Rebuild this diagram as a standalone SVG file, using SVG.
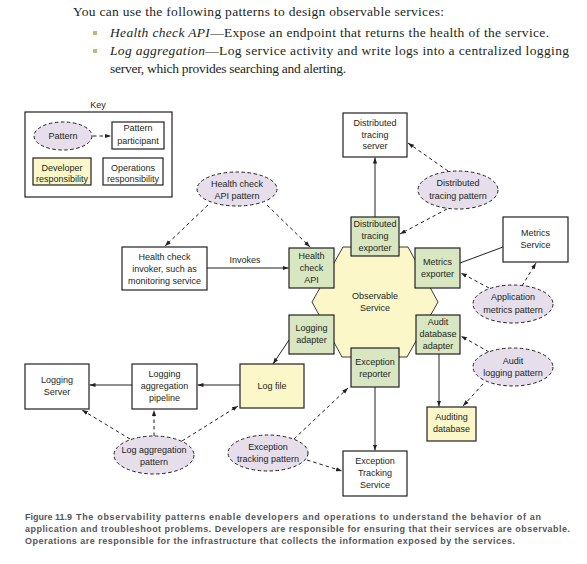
<svg xmlns="http://www.w3.org/2000/svg" width="587" height="564" viewBox="0 0 587 564">
<defs>
<marker id="ah" viewBox="0 0 10 10" refX="10" refY="5" markerWidth="6" markerHeight="6" orient="auto" markerUnits="userSpaceOnUse">
<path d="M0,1.5 L10,5 L0,8.5 z" fill="#231f20"/>
</marker>
<style>
.prose{font-family:"Liberation Serif","Times New Roman",serif;font-size:13.5px;fill:#231f20}
.cap{font-family:"Liberation Sans",Arial,sans-serif;font-weight:bold;font-size:9px;fill:#555557}
.t{font-family:"Liberation Sans",Arial,sans-serif;font-size:9px;fill:#231f20;text-anchor:middle}
.ops{fill:#ffffff;stroke:#231f20;stroke-width:1.2}
.dev{fill:#fcf7c9;stroke:#231f20;stroke-width:1.2}
.part{fill:#d8e7c1;stroke:#231f20;stroke-width:1.2}
.pat{fill:#e6deeb;stroke:#231f20;stroke-width:1;stroke-dasharray:3.5,2.5}
.hex{fill:#fcf7c9;stroke:#3a3a3a;stroke-width:1}
.solid{fill:none;stroke:#231f20;stroke-width:1;marker-end:url(#ah)}
.plain{fill:none;stroke:#231f20;stroke-width:1}
.dash{fill:none;stroke:#231f20;stroke-width:1;stroke-dasharray:3.5,3;marker-end:url(#ah)}
</style>
</defs>
<rect width="587" height="564" fill="#ffffff"/>

<g id="prose">
<text class="prose" x="73" y="16" textLength="371" lengthAdjust="spacing">You can use the following patterns to design observable services:</text>
<rect x="93" y="31" width="4" height="4" fill="#c9b27c"/>
<text class="prose" x="110" y="37" textLength="439" lengthAdjust="spacing"><tspan font-style="italic">Health check API</tspan>—Expose an endpoint that returns the health of the service.</text>
<rect x="93" y="49" width="4" height="4" fill="#c9b27c"/>
<text class="prose" x="110" y="55" textLength="459" lengthAdjust="spacing"><tspan font-style="italic">Log aggregation</tspan>—Log service activity and write logs into a centralized logging</text>
<text class="prose" x="110" y="73" textLength="236" lengthAdjust="spacing">server, which provides searching and alerting.</text>
</g>

<g id="key">
<text class="t" x="98" y="108">Key</text>
<rect x="25" y="112" width="147" height="85" fill="#ffffff" stroke="#231f20" stroke-width="1.2"/>
<ellipse class="pat" cx="63" cy="136" rx="29" ry="14"/>
<text class="t" x="63" y="139">Pattern</text>
<rect class="ops" x="112" y="122" width="52" height="27"/>
<text class="t" x="138" y="131">Pattern</text>
<text class="t" x="138" y="144">participant</text>
<rect class="dev" x="33" y="158" width="58" height="27"/>
<text class="t" x="62" y="171">Developer</text>
<text class="t" x="62" y="182">responsibility</text>
<rect class="ops" x="103" y="158" width="60" height="27"/>
<text class="t" x="133" y="171">Operations</text>
<text class="t" x="133" y="182">responsibility</text>
<line class="dash" x1="93" y1="136" x2="111" y2="136"/>
</g>

<g id="observable-service">
<polygon class="hex" points="343,247 408,247 438,302 407,357 342,357 312,302"/>
<text class="t" x="375" y="299">Observable</text>
<text class="t" x="375" y="311">Service</text>
</g>

<g id="connectors">
<line class="solid" x1="375" y1="217" x2="375" y2="157.5"/>
<line class="plain" x1="460" y1="263" x2="503" y2="247"/>
<line class="solid" x1="207" y1="268" x2="288.5" y2="268"/>
<line class="solid" x1="289" y1="340" x2="273" y2="364"/>
<line class="solid" x1="240" y1="385" x2="197.5" y2="385"/>
<line class="solid" x1="132" y1="385" x2="89.5" y2="385"/>
<line class="solid" x1="375" y1="387" x2="375" y2="450.5"/>
<line class="solid" x1="439" y1="354" x2="439" y2="406.5"/>
<line class="dash" x1="448" y1="171" x2="408" y2="143"/>
<line class="dash" x1="447" y1="209" x2="400" y2="234"/>
<line class="dash" x1="522" y1="286" x2="536" y2="263"/>
<line class="dash" x1="489" y1="288" x2="461" y2="273"/>
<line class="dash" x1="208" y1="205" x2="165" y2="246"/>
<line class="dash" x1="267" y1="205" x2="310" y2="247"/>
<line class="dash" x1="489" y1="352" x2="461" y2="336"/>
<line class="dash" x1="483" y1="384" x2="463" y2="406"/>
<line class="dash" x1="130" y1="439" x2="82" y2="410"/>
<line class="dash" x1="154" y1="436" x2="154" y2="410"/>
<line class="dash" x1="182" y1="441" x2="238" y2="406"/>
<line class="dash" x1="294" y1="439" x2="348" y2="388"/>
<line class="dash" x1="307" y1="460" x2="342" y2="471"/>
</g>

<g id="distributed-tracing-server">
<rect class="ops" x="343" y="113" width="64" height="44"/>
<text class="t" x="375" y="126">Distributed</text>
<text class="t" x="375" y="138">tracing</text>
<text class="t" x="375" y="149">server</text>
</g>

<g id="distributed-tracing-pattern">
<ellipse class="pat" cx="458" cy="190" rx="40" ry="19"/>
<text class="t" x="458" y="186">Distributed</text>
<text class="t" x="458" y="199">tracing pattern</text>
</g>

<g id="distributed-tracing-exporter">
<rect class="part" x="351" y="217" width="48" height="39"/>
<text class="t" x="375" y="227">Distributed</text>
<text class="t" x="375" y="239">tracing</text>
<text class="t" x="375" y="251">exporter</text>
</g>

<g id="health-check-api">
<rect class="part" x="289" y="248" width="45" height="40"/>
<text class="t" x="311.5" y="259">Health</text>
<text class="t" x="311.5" y="271">check</text>
<text class="t" x="311.5" y="283">API</text>
</g>

<g id="metrics-exporter">
<rect class="part" x="415" y="248" width="45" height="40"/>
<text class="t" x="437.5" y="265">Metrics</text>
<text class="t" x="437.5" y="277">exporter</text>
</g>

<g id="metrics-service">
<rect class="ops" x="503" y="217" width="65" height="45"/>
<text class="t" x="535.5" y="236">Metrics</text>
<text class="t" x="535.5" y="248">Service</text>
</g>

<g id="application-metrics-pattern">
<ellipse class="pat" cx="513" cy="304" rx="40" ry="19"/>
<text class="t" x="513" y="300">Application</text>
<text class="t" x="513" y="313">metrics pattern</text>
</g>

<g id="health-check-api-pattern">
<ellipse class="pat" cx="237" cy="189" rx="40" ry="17"/>
<text class="t" x="237" y="187">Health check</text>
<text class="t" x="237" y="199">API pattern</text>
</g>

<g id="health-check-invoker">
<rect class="ops" x="122" y="247" width="85" height="43"/>
<text class="t" x="164.5" y="260">Health check</text>
<text class="t" x="164.5" y="272">invoker, such as</text>
<text class="t" x="164.5" y="284">monitoring service</text>
<text class="t" x="245" y="263">Invokes</text>
</g>

<g id="logging-adapter">
<rect class="part" x="289" y="315" width="45" height="39"/>
<text class="t" x="311.5" y="331">Logging</text>
<text class="t" x="311.5" y="343">adapter</text>
</g>

<g id="audit-database-adapter">
<rect class="part" x="416" y="315" width="44" height="39"/>
<text class="t" x="438" y="325">Audit</text>
<text class="t" x="438" y="337">database</text>
<text class="t" x="438" y="349">adapter</text>
</g>

<g id="audit-logging-pattern">
<ellipse class="pat" cx="513" cy="367" rx="40" ry="19"/>
<text class="t" x="513" y="364">Audit</text>
<text class="t" x="513" y="376">logging pattern</text>
</g>

<g id="exception-reporter">
<rect class="part" x="351" y="348" width="48" height="39"/>
<text class="t" x="375" y="365">Exception</text>
<text class="t" x="375" y="377">reporter</text>
</g>

<g id="logging-server">
<rect class="ops" x="25" y="364" width="64" height="45"/>
<text class="t" x="57" y="383">Logging</text>
<text class="t" x="57" y="395">Server</text>
</g>

<g id="logging-aggregation-pipeline">
<rect class="ops" x="132" y="364" width="65" height="45"/>
<text class="t" x="164.5" y="377">Logging</text>
<text class="t" x="164.5" y="389">aggregation</text>
<text class="t" x="164.5" y="401">pipeline</text>
</g>

<g id="log-file">
<rect class="dev" x="240" y="364" width="64" height="44"/>
<text class="t" x="272" y="389">Log file</text>
</g>

<g id="auditing-database">
<rect class="dev" x="427" y="407" width="49" height="34"/>
<text class="t" x="451.5" y="420">Auditing</text>
<text class="t" x="451.5" y="432">database</text>
</g>

<g id="log-aggregation-pattern">
<ellipse class="pat" cx="154" cy="455" rx="40" ry="19"/>
<text class="t" x="154" y="453">Log aggregation</text>
<text class="t" x="154" y="465">pattern</text>
</g>

<g id="exception-tracking-pattern">
<ellipse class="pat" cx="268" cy="453" rx="40" ry="18"/>
<text class="t" x="268" y="450">Exception</text>
<text class="t" x="268" y="462">tracking pattern</text>
</g>

<g id="exception-tracking-service">
<rect class="ops" x="343" y="451" width="64" height="45"/>
<text class="t" x="375" y="464">Exception</text>
<text class="t" x="375" y="476">Tracking</text>
<text class="t" x="375" y="488">Service</text>
</g>

<g id="caption">
<text class="cap" x="25" y="520">Figure 11.9</text>
<text class="cap" x="76" y="520" textLength="465" lengthAdjust="spacing">The observability patterns enable developers and operations to understand the behavior of an</text>
<text class="cap" x="25" y="532" textLength="545" lengthAdjust="spacing">application and troubleshoot problems. Developers are responsible for ensuring that their services are observable.</text>
<text class="cap" x="25" y="544" textLength="490" lengthAdjust="spacing">Operations are responsible for the infrastructure that collects the information exposed by the services.</text>
</g>
</svg>
